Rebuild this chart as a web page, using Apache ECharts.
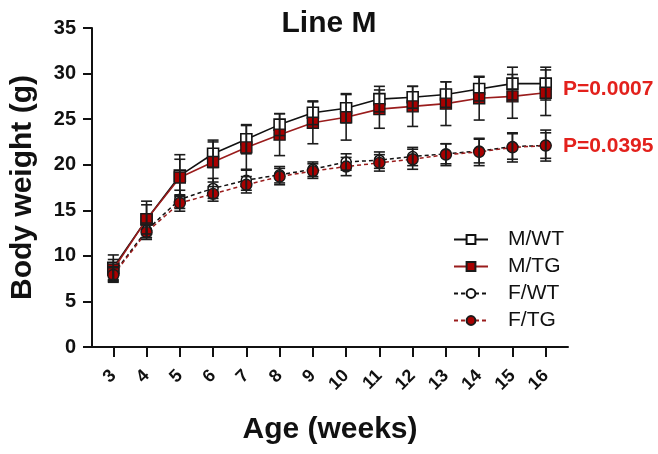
<!DOCTYPE html>
<html>
<head>
<meta charset="utf-8">
<script src="https://cdn.jsdelivr.net/npm/echarts@6/dist/echarts.min.js"></script>
<style>
  html, body { margin: 0; padding: 0; background: #fff; }
  #chart { width: 658px; height: 454px; }
</style>
</head>
<body>
<div id="chart"></div>
<script>
// Age in weeks
const weeks = [3, 4, 5, 6, 7, 8, 9, 10, 11, 12, 13, 14, 15, 16];

// Mean body weight (g) and SD for each group
const mWT   = [8.7, 14.0, 18.8, 21.2, 22.8, 24.4, 25.7, 26.2, 27.2, 27.4, 27.7, 28.3, 28.9, 28.9];
const mWTsd = [1.4, 2.0, 2.3, 1.5, 1.6, 1.2, 1.3, 1.6, 1.4, 1.2, 1.4, 1.3, 1.8, 1.8];
const mTG   = [8.5, 14.0, 18.6, 20.3, 21.9, 23.3, 24.6, 25.2, 26.1, 26.4, 26.7, 27.3, 27.5, 27.9];
const mTGsd = [1.1, 1.6, 2.0, 2.2, 2.4, 2.3, 2.3, 2.5, 2.1, 2.2, 2.4, 2.4, 2.4, 2.5];
const fWT   = [8.0, 12.8, 16.2, 17.4, 18.3, 18.9, 19.5, 20.3, 20.5, 20.9, 21.2, 21.5, 22.0, 22.1];
const fWTsd = [0.8, 0.8, 1.0, 1.1, 1.1, 0.9, 0.8, 0.9, 0.9, 1.0, 1.1, 1.3, 1.4, 1.4];
const fTG   = [7.9, 12.6, 15.8, 16.8, 17.8, 18.7, 19.3, 19.8, 20.2, 20.6, 21.1, 21.4, 21.9, 22.1];
const fTGsd = [0.8, 0.8, 0.9, 0.8, 0.9, 0.9, 0.8, 1.0, 0.9, 1.1, 1.2, 1.5, 1.6, 1.7];

// Significance annotations for male and female comparisons
const pMale = 'P=0.0007';
const pFemale = 'P=0.0395';

const FONT = '"Liberation Sans", Arial, sans-serif';
const RED_FILL = '#a80000';
const RED_LINE = '#9a1c1c';
const INK = '#111';

// Plot frame and x range; the week ticks sit in a band grid aligned to the same scale
const W = 658, H = 454;
const plotLeft = 92, plotRight = 568, plotTop = 28, plotBottom = 347;
const xMin = 2.36, xMax = 16.67;
const pxPerWeek = (plotRight - plotLeft) / (xMax - xMin);
const bandLeft = plotLeft + (weeks[0] - 0.5 - xMin) * pxPerWeek;
const bandRight = plotLeft + (weeks[weeks.length - 1] + 0.5 - xMin) * pxPerWeek;

function points(values, endLabel) {
  return weeks.map((w, i) => {
    const item = { value: [w, values[i]] };
    if (endLabel && i === weeks.length - 1) {
      item.label = {
        show: true,
        position: 'right',
        distance: 10,
        formatter: endLabel.text,
        offset: endLabel.offset,
        color: '#e3211c',
        fontFamily: FONT,
        fontWeight: 'bold',
        fontSize: 21
      };
    }
    return item;
  });
}

function errorBars(values, sd) {
  return {
    type: 'custom',
    silent: true,
    z: 6,
    renderItem(params, api) {
      const x = api.value(0), m = api.value(1), s = api.value(2);
      const top = api.coord([x, m + s]);
      const bot = api.coord([x, m - s]);
      const hw = 5.5;
      const style = { stroke: '#1c1c1c', lineWidth: 1.6 };
      return {
        type: 'group',
        children: [
          { type: 'line', shape: { x1: top[0], y1: top[1], x2: bot[0], y2: bot[1] }, style },
          { type: 'line', shape: { x1: top[0] - hw, y1: top[1], x2: top[0] + hw, y2: top[1] }, style },
          { type: 'line', shape: { x1: bot[0] - hw, y1: bot[1], x2: bot[0] + hw, y2: bot[1] }, style }
        ]
      };
    },
    data: weeks.map((w, i) => [w, values[i], sd[i]])
  };
}

const chart = echarts.init(document.getElementById('chart'), null, { renderer: 'canvas' });

chart.setOption({
  animation: false,
  backgroundColor: '#fff',
  title: {
    text: 'Line M',
    left: 'center',
    top: 4,
    textStyle: { fontFamily: FONT, fontWeight: 'bold', fontSize: 30, color: INK }
  },
  legend: {
    orient: 'vertical',
    left: 448,
    top: 224,
    itemWidth: 34,
    itemHeight: 11,
    itemGap: 6,
    textStyle: { fontFamily: FONT, fontSize: 21, color: INK, padding: [0, 0, 0, 15] },
    data: ['M/WT', 'M/TG', 'F/WT', 'F/TG']
  },
  grid: [
    { left: plotLeft, right: W - plotRight, top: plotTop, bottom: H - plotBottom },
    { left: bandLeft, right: W - bandRight, top: plotTop, bottom: H - plotBottom }
  ],
  xAxis: [
    {
      type: 'value',
      gridIndex: 0,
      min: xMin,
      max: xMax,
      name: 'Age (weeks)',
      nameLocation: 'middle',
      nameGap: 68,
      nameTextStyle: { fontFamily: FONT, fontWeight: 'bold', fontSize: 30, color: INK },
      axisLine: { lineStyle: { color: INK, width: 2 } },
      axisTick: { show: false },
      axisLabel: { show: false },
      splitLine: { show: false }
    },
    {
      type: 'category',
      gridIndex: 1,
      data: weeks.map(String),
      boundaryGap: true,
      axisLine: { show: false },
      axisTick: { show: true, alignWithLabel: true, length: 10, lineStyle: { color: INK, width: 2 } },
      axisLabel: {
        interval: 0,
        rotate: 45,
        margin: 26,
        fontFamily: FONT,
        fontWeight: 'bold',
        fontSize: 18,
        color: INK
      },
      splitLine: { show: false }
    }
  ],
  yAxis: [
    {
      type: 'value',
      gridIndex: 0,
      min: 0,
      max: 35,
      interval: 5,
      name: 'Body weight (g)',
      nameLocation: 'middle',
      nameGap: 54,
      nameTextStyle: { fontFamily: FONT, fontWeight: 'bold', fontSize: 30, color: INK },
      axisLine: { show: true, lineStyle: { color: INK, width: 2 } },
      axisTick: { show: true, length: 9, lineStyle: { color: INK, width: 2 } },
      axisLabel: { margin: 16, fontFamily: FONT, fontWeight: 'bold', fontSize: 20, color: INK },
      splitLine: { show: false }
    },
    { type: 'value', gridIndex: 1, show: false, min: 0, max: 35 }
  ],
  series: [
    {
      name: 'M/WT', type: 'line', z: 3,
      symbol: 'rect', symbolSize: 11,
      lineStyle: { color: INK, width: 1.6 },
      itemStyle: { color: '#fff', borderColor: INK, borderWidth: 1.6 },
      data: points(mWT)
    },
    {
      name: 'M/TG', type: 'line', z: 4,
      symbol: 'rect', symbolSize: 11,
      lineStyle: { color: RED_LINE, width: 1.6 },
      itemStyle: { color: RED_FILL, borderColor: '#1a1a1a', borderWidth: 1.4 },
      data: points(mTG, { text: pMale, offset: [1, -4] })
    },
    {
      name: 'F/WT', type: 'line', z: 3,
      symbol: 'circle', symbolSize: 10,
      lineStyle: { color: INK, width: 1.5, type: [4, 3] },
      itemStyle: { color: '#fff', borderColor: INK, borderWidth: 1.5 },
      data: points(fWT)
    },
    {
      name: 'F/TG', type: 'line', z: 4,
      symbol: 'circle', symbolSize: 11,
      lineStyle: { color: RED_LINE, width: 1.5, type: [4, 3] },
      itemStyle: { color: RED_FILL, borderColor: '#1a1a1a', borderWidth: 1.4 },
      data: points(fTG, { text: pFemale, offset: [1, 1] })
    },
    errorBars(mWT, mWTsd),
    errorBars(mTG, mTGsd),
    errorBars(fWT, fWTsd),
    errorBars(fTG, fTGsd)
  ]
});
</script>
</body>
</html>
